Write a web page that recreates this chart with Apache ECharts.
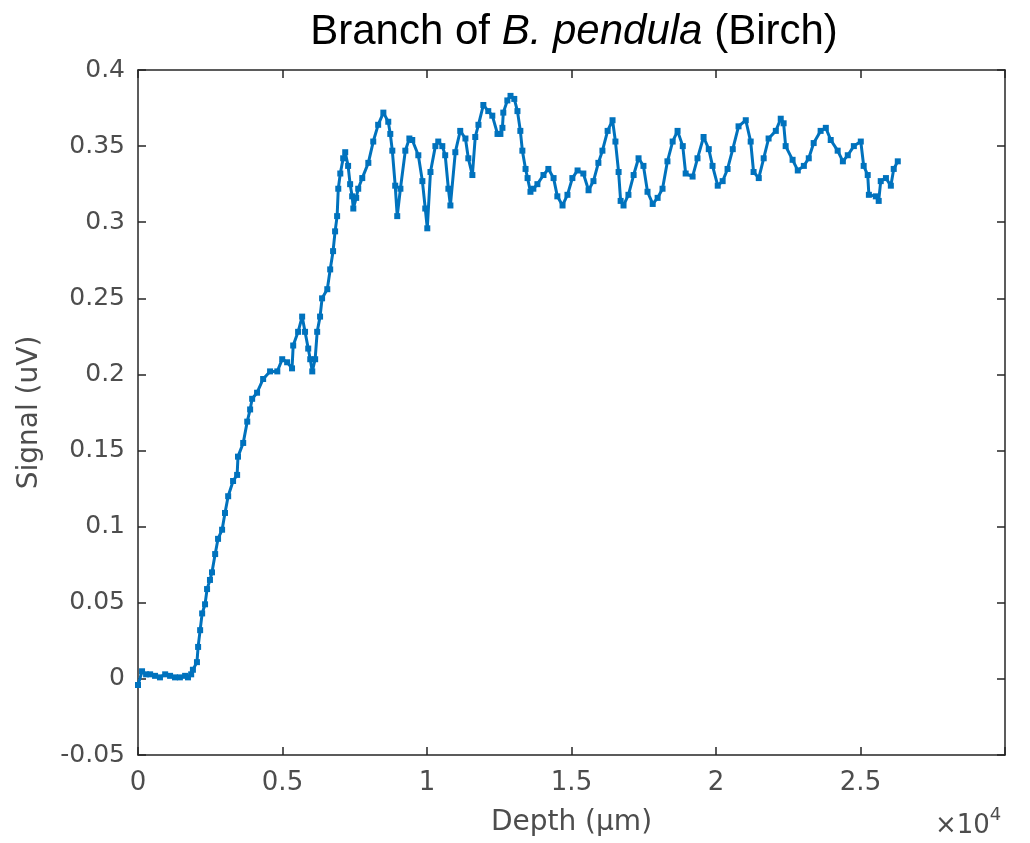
<!DOCTYPE html>
<html>
<head>
<meta charset="utf-8">
<script src="https://cdn.jsdelivr.net/npm/echarts@6/dist/echarts.min.js"></script>
<style>
html,body{margin:0;padding:0;background:#fff;}
#chart{width:1030px;height:843px;}
</style>
</head>
<body>
<div id="chart"></div>
<script>
// Depth (µm)
const depth = [0,140,280,420,590,760,940,1110,1280,1450,1630,1730,1840,1900,2040,2080,2150,2220,2320,2390,2490,2560,2670,2770,2910,3010,3120,3290,3430,3460,3640,3780,3880,3950,4120,4330,4570,4820,4990,5160,5330,5370,5540,5680,5780,5890,5960,6030,6130,6200,6300,6370,6550,6650,6750,6820,6890,6930,7000,7100,7170,7270,7340,7410,7450,7550,7620,7760,7970,8140,8310,8490,8660,8730,8800,8900,8970,9080,9250,9390,9490,9700,9840,9940,10010,10120,10290,10390,10530,10630,10740,10810,10980,11150,11330,11430,11570,11670,11780,11950,12120,12260,12440,12540,12610,12640,12780,12890,13020,13130,13230,13300,13410,13480,13580,13680,13820,14030,14200,14380,14510,14690,14860,15030,15210,15410,15590,15760,15930,16070,16250,16420,16520,16630,16700,16800,16970,17150,17320,17490,17630,17810,17980,18150,18320,18500,18670,18850,18950,19190,19360,19570,19750,19880,20060,20230,20400,20580,20780,21030,21200,21300,21480,21650,21820,22070,22240,22340,22410,22650,22830,23040,23210,23380,23620,23800,23970,24210,24390,24560,24770,25010,25110,25250,25290,25530,25630,25700,25880,26050,26150,26290];
// Signal (uV)
const signal = [-0.004,0.005,0.003,0.003,0.002,0.001,0.003,0.002,0.001,0.001,0.002,0.001,0.003,0.006,0.011,0.021,0.032,0.043,0.049,0.059,0.065,0.070,0.082,0.092,0.098,0.109,0.120,0.130,0.134,0.146,0.155,0.169,0.177,0.184,0.188,0.197,0.202,0.202,0.210,0.208,0.204,0.219,0.228,0.238,0.228,0.217,0.210,0.202,0.210,0.228,0.238,0.250,0.256,0.269,0.281,0.294,0.304,0.322,0.332,0.342,0.346,0.337,0.325,0.317,0.309,0.316,0.322,0.329,0.339,0.353,0.364,0.372,0.366,0.358,0.347,0.324,0.304,0.322,0.347,0.355,0.354,0.344,0.327,0.309,0.296,0.333,0.350,0.353,0.350,0.344,0.322,0.311,0.346,0.360,0.355,0.342,0.331,0.356,0.364,0.377,0.373,0.370,0.358,0.358,0.362,0.372,0.380,0.383,0.381,0.373,0.360,0.347,0.335,0.329,0.320,0.322,0.325,0.331,0.335,0.329,0.317,0.311,0.318,0.329,0.334,0.332,0.321,0.327,0.339,0.347,0.360,0.367,0.353,0.333,0.314,0.311,0.318,0.331,0.342,0.337,0.320,0.312,0.316,0.322,0.340,0.353,0.360,0.350,0.332,0.330,0.342,0.356,0.348,0.337,0.324,0.327,0.335,0.348,0.363,0.367,0.353,0.333,0.329,0.342,0.355,0.360,0.368,0.365,0.350,0.341,0.334,0.337,0.342,0.352,0.360,0.362,0.354,0.347,0.340,0.344,0.350,0.353,0.337,0.331,0.318,0.317,0.314,0.327,0.329,0.324,0.335,0.340];

const xTicks = {min: 0, max: 30000, step: 5000};
const yTicks = {min: -0.05, max: 0.4, step: 0.05};

const points = depth.map((d, i) => [d, signal[i]]);
const axisColor = '#262626';
const labelColor = '#4d4d4d';
const fontFam = '"DejaVu Sans", sans-serif';

const chart = echarts.init(document.getElementById('chart'), null, {renderer: 'canvas'});
const hiddenAxisCommon = {
  axisLine: {show: true, onZero: false, lineStyle: {color: axisColor, width: 1.5}},
  axisTick: {show: true, inside: true, length: 8, lineStyle: {color: axisColor, width: 1.5}},
  axisLabel: {show: false},
  splitLine: {show: false}
};
chart.setOption({
  animation: false,
  backgroundColor: '#ffffff',
  title: {
    left: 569, top: 6, textAlign: 'center',
    text: '{n|Branch of }{i|B. pendula}{n| (Birch)}',
    textStyle: {
      rich: {
        n: {fontFamily: '"Liberation Sans", sans-serif', fontSize: 42, fontWeight: 'normal', color: '#000'},
        i: {fontFamily: '"Liberation Sans", sans-serif', fontSize: 42, fontWeight: 'normal', color: '#000', fontStyle: 'italic'}
      }
    }
  },
  grid: {left: 138, right: 25, top: 70, bottom: 88, containLabel: false},
  xAxis: [{
    type: 'value', min: xTicks.min, max: xTicks.max, interval: xTicks.step,
    position: 'bottom',
    name: 'Depth (µm)', nameLocation: 'middle', nameGap: 54,
    nameTextStyle: {fontFamily: fontFam, fontSize: 28, color: labelColor},
    axisLine: {show: true, onZero: false, lineStyle: {color: axisColor, width: 1.5}},
    axisTick: {show: true, inside: true, length: 8, lineStyle: {color: axisColor, width: 1.5}},
    axisLabel: {
      fontFamily: fontFam, fontSize: 26, color: labelColor, margin: 15,
      formatter: v => v >= xTicks.max ? '' : String(parseFloat((v / 10000).toFixed(2)))
    },
    splitLine: {show: false}
  }, Object.assign({
    type: 'value', min: xTicks.min, max: xTicks.max, interval: xTicks.step, position: 'top'
  }, hiddenAxisCommon)],
  yAxis: [{
    type: 'value', min: yTicks.min, max: yTicks.max, interval: yTicks.step,
    position: 'left',
    name: 'Signal (uV)', nameLocation: 'middle', nameGap: 94, nameRotate: 90,
    nameTextStyle: {fontFamily: fontFam, fontSize: 28, color: labelColor},
    axisLine: {show: true, onZero: false, lineStyle: {color: axisColor, width: 1.5}},
    axisTick: {show: true, inside: true, length: 8, lineStyle: {color: axisColor, width: 1.5}},
    axisLabel: {
      fontFamily: fontFam, fontSize: 25, color: labelColor, margin: 13,
      formatter: v => String(parseFloat(v.toFixed(2)))
    },
    splitLine: {show: false}
  }, Object.assign({
    type: 'value', min: yTicks.min, max: yTicks.max, interval: yTicks.step, position: 'right'
  }, hiddenAxisCommon)],
  graphic: [{
    type: 'text', left: 935, top: 806,
    style: {
      text: '{a|×10}{b|4}',
      rich: {
        a: {fontFamily: fontFam, fontSize: 26, fill: labelColor, verticalAlign: 'bottom'},
        b: {fontFamily: fontFam, fontSize: 18, fill: labelColor, verticalAlign: 'top', padding: [0, 0, 15, 0]}
      }
    }
  }],
  series: [{
    type: 'line', xAxisIndex: 0, yAxisIndex: 0,
    data: points,
    lineStyle: {color: '#0072BD', width: 3},
    itemStyle: {color: '#0072BD'},
    symbol: 'rect', symbolSize: 6, showSymbol: true,
    emphasis: {disabled: true}
  }]
});
</script>
</body>
</html>
